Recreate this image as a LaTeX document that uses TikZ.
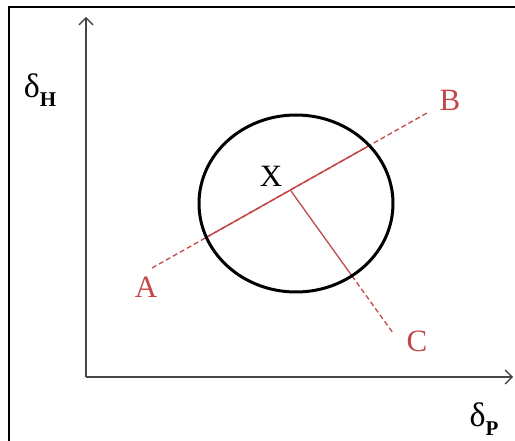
\documentclass[tikz,border=0pt]{standalone}
\usepackage{fontspec}
\setmainfont{Liberation Serif}
\usetikzlibrary{intersections,arrows.meta}
\definecolor{redl}{RGB}{196,72,72}
\definecolor{axisgray}{RGB}{70,70,70}
\tikzset{
  axisline/.style={draw=axisgray, line width=1.5pt, -{Straight Barb[length=7pt,width=14pt,line width=1.3pt]}},
  redsolid/.style={draw=redl, line width=1.3pt},
  reddash/.style={draw=redl, line width=1.3pt, dash pattern=on 5pt off 3pt},
  lbl/.style={inner sep=0pt, font=\fontsize{31}{32}\selectfont},
  redlbl/.style={lbl, text=redl},
}
\newcommand{\dlab}[1]{{\fontsize{34}{34}\selectfont δ}\raisebox{-0.3em}{\fontsize{21}{21}\selectfont\textbf{#1}}}
\begin{document}
\begin{tikzpicture}[x=1pt,y=-1pt]
\useasboundingbox (0,0) rectangle (515,441);
% frame (left and top only)
\draw[line width=2pt] (9,441) -- (9,7) -- (515,7);
% axes
\coordinate (O) at (86,377);
\coordinate (Ytip) at (86,17);
\coordinate (Xtip) at (513,377);
\draw[axisline] (O) -- (Ytip);
\draw[axisline] (O) -- (Xtip);
\node[lbl] (dH) at (40,90) {\dlab{H}};
\node[lbl] (dP) at (484,419) {\dlab{P}};
% ellipse
\path[name path=ell] (296,203.5) ellipse [x radius=97pt, y radius=88.5pt];
% red lines
\coordinate (A) at (152,268);
\coordinate (B) at (427,113);
\coordinate (F) at (291,191);
\coordinate (C) at (393,333);
\path[name path=ab] (A) -- (B);
\path[name path=fc] (F) -- (C);
\path[name intersections={of=ell and ab, by={P1,P2}}];
\path[name intersections={of=ell and fc, by={P3}}];
\draw[reddash] (A) -- (P1);
\draw[reddash] (P2) -- (B);
\draw[redsolid] (P1) -- (P2);
\draw[redsolid] (F) -- (P3);
\draw[reddash] (P3) -- (C);
\draw[line width=3pt] (296,203.5) ellipse [x radius=97pt, y radius=88.5pt];
% labels
\node[lbl] (X) at (271,176) {X};
\node[redlbl] (LA) at (146,287) {A};
\node[redlbl] (LB) at (450,100) {B};
\node[redlbl] (LC) at (417,341) {C};
\end{tikzpicture}
\end{document}
